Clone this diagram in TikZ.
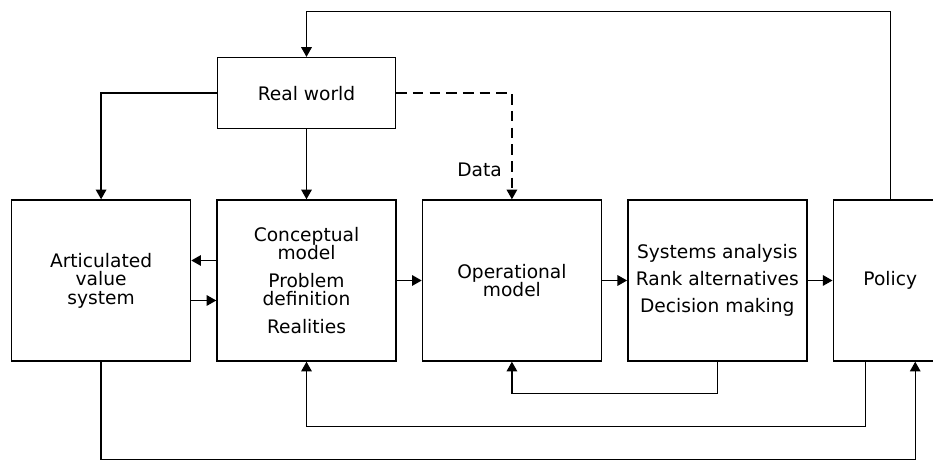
\documentclass[tikz,border=0pt]{standalone}
\usepackage{fontspec}
\setmainfont{DejaVu Sans}
\usetikzlibrary{arrows.meta,positioning}

\begin{document}
\begin{tikzpicture}[
    box/.style={rectangle, draw, line width=0.8pt, minimum width=3.58cm, minimum height=3.22cm, align=center, inner sep=2pt},
    arrow/.style={-{Triangle[length=5.5pt,width=6pt]}, line width=0.8pt},
    node distance=0.5cm,
    font=\fontsize{10.6}{10.5}\selectfont
]
\useasboundingbox (0,0) rectangle (18.66,9.22);
\clip (0,0) rectangle (18.66,9.22);

\node[box] (concept) at (6.13,3.61) {Conceptual\\model\\[0.18cm]Problem\\definition\\[0.18cm]Realities};
\node[box, left=of concept] (values) {Articulated\\value\\system};
\node[box, right=of concept] (opmodel) {Operational\\model};
\node[box, right=of opmodel] (analysis) {Systems analysis\\[0.17cm]Rank alternatives\\[0.17cm]Decision making};
\node[box, right=of analysis, minimum width=2.28cm] (policy) {Policy};
\node[box, above=1.4cm of concept, minimum width=3.56cm, minimum height=1.42cm] (world) {Real world};

\draw[arrow] (world.west) -| (values.north);
\draw[arrow] (world) -- (concept);
\draw[arrow, dash pattern=on 6pt off 3.5pt] (world.east) -| (opmodel.north) node[pos=0.86, left=2pt] {Data};
\draw[arrow] ([yshift=0.4cm]concept.west) -- ([yshift=0.4cm]values.east);
\draw[arrow] ([yshift=-0.4cm]values.east) -- ([yshift=-0.4cm]concept.west);
\draw[arrow] (concept) -- (opmodel);
\draw[arrow] (opmodel) -- (analysis);
\draw[arrow] (analysis) -- (policy);
\draw[arrow] (analysis.south) -- ++(0,-0.64) -| (opmodel.south);
\draw[arrow] ([xshift=-0.5cm]policy.south) -- ++(0,-1.3) -| (concept.south);
\draw[arrow] (values.south) -- ++(0,-1.96) -| ([xshift=0.5cm]policy.south);
\draw[arrow] (policy.north) -- ++(0,3.76) -| (world.north);
\end{tikzpicture}
\end{document}
